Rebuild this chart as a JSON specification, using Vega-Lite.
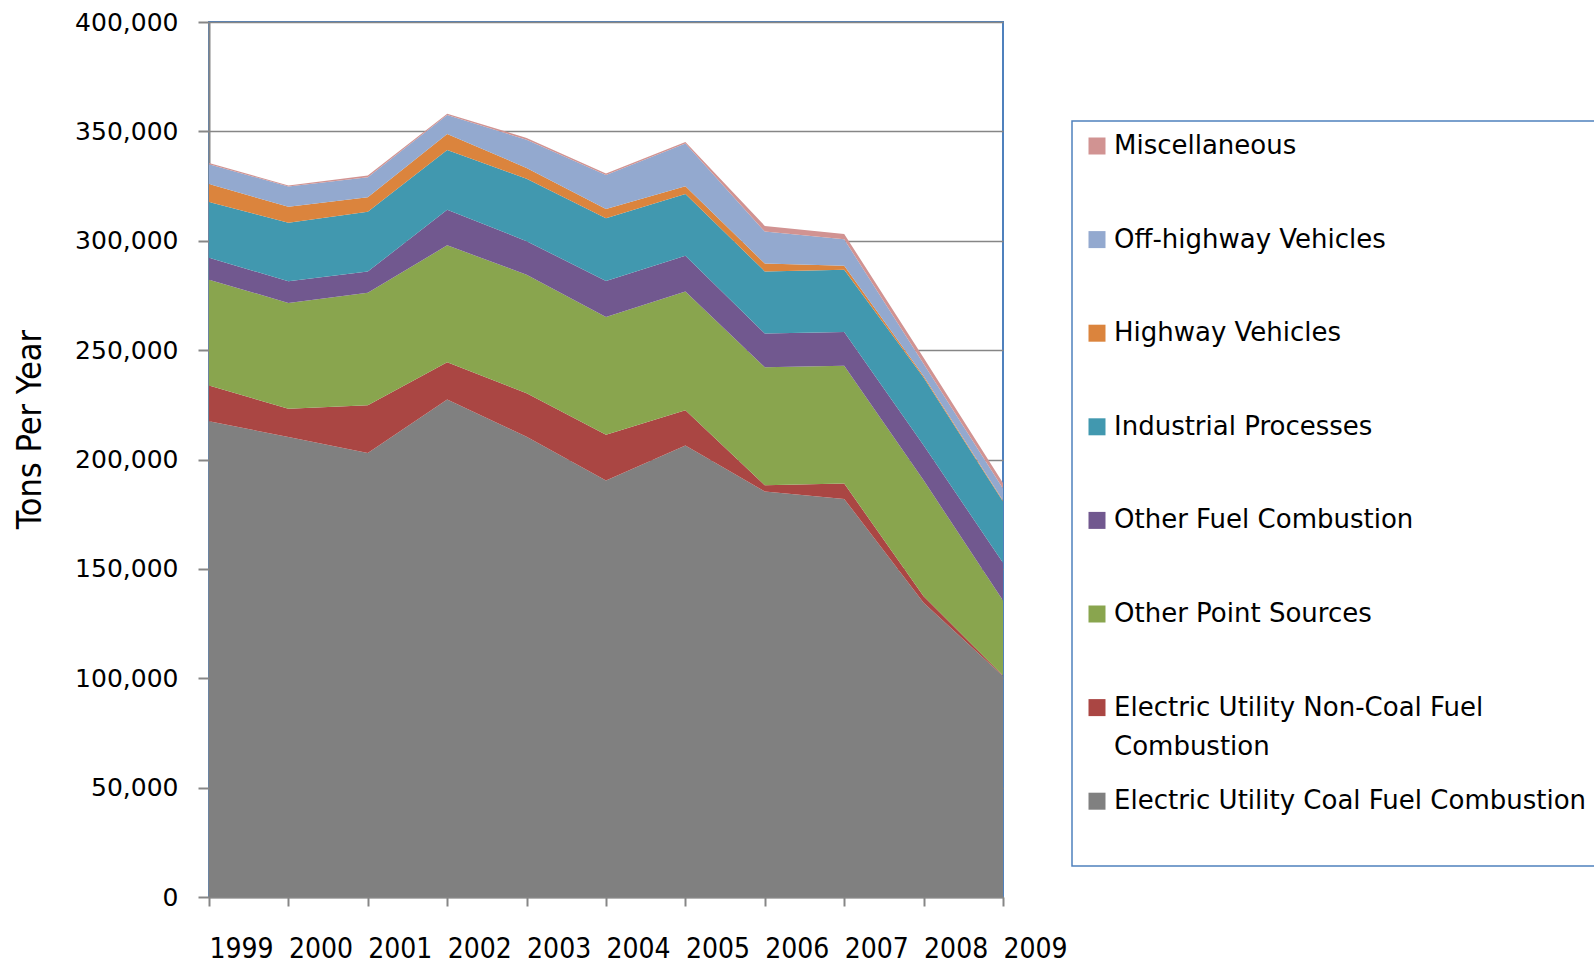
{
  "$schema": "https://vega.github.io/schema/vega-lite/v6.json",
  "autosize": {"type": "none"},
  "padding": {"left": 209, "top": 22, "right": 591, "bottom": 67},
  "width": 794,
  "height": 875,
  "background": "white",
  "data": {
    "values": [
      {"year": 1999, "source": "Electric Utility Coal Fuel Combustion", "tons": 217500},
      {"year": 1999, "source": "Electric Utility Non-Coal Fuel Combustion", "tons": 16300},
      {"year": 1999, "source": "Other Point Sources", "tons": 48400},
      {"year": 1999, "source": "Other Fuel Combustion", "tons": 10000},
      {"year": 1999, "source": "Industrial Processes", "tons": 25500},
      {"year": 1999, "source": "Highway Vehicles", "tons": 8300},
      {"year": 1999, "source": "Off-highway Vehicles", "tons": 9000},
      {"year": 1999, "source": "Miscellaneous", "tons": 500},
      {"year": 2000, "source": "Electric Utility Coal Fuel Combustion", "tons": 210300},
      {"year": 2000, "source": "Electric Utility Non-Coal Fuel Combustion", "tons": 12900},
      {"year": 2000, "source": "Other Point Sources", "tons": 48400},
      {"year": 2000, "source": "Other Fuel Combustion", "tons": 9900},
      {"year": 2000, "source": "Industrial Processes", "tons": 26700},
      {"year": 2000, "source": "Highway Vehicles", "tons": 7300},
      {"year": 2000, "source": "Off-highway Vehicles", "tons": 9300},
      {"year": 2000, "source": "Miscellaneous", "tons": 500},
      {"year": 2001, "source": "Electric Utility Coal Fuel Combustion", "tons": 203000},
      {"year": 2001, "source": "Electric Utility Non-Coal Fuel Combustion", "tons": 21800},
      {"year": 2001, "source": "Other Point Sources", "tons": 51400},
      {"year": 2001, "source": "Other Fuel Combustion", "tons": 9700},
      {"year": 2001, "source": "Industrial Processes", "tons": 27400},
      {"year": 2001, "source": "Highway Vehicles", "tons": 6600},
      {"year": 2001, "source": "Off-highway Vehicles", "tons": 9100},
      {"year": 2001, "source": "Miscellaneous", "tons": 800},
      {"year": 2002, "source": "Electric Utility Coal Fuel Combustion", "tons": 227400},
      {"year": 2002, "source": "Electric Utility Non-Coal Fuel Combustion", "tons": 17100},
      {"year": 2002, "source": "Other Point Sources", "tons": 53400},
      {"year": 2002, "source": "Other Fuel Combustion", "tons": 16300},
      {"year": 2002, "source": "Industrial Processes", "tons": 27300},
      {"year": 2002, "source": "Highway Vehicles", "tons": 7300},
      {"year": 2002, "source": "Off-highway Vehicles", "tons": 8700},
      {"year": 2002, "source": "Miscellaneous", "tons": 600},
      {"year": 2003, "source": "Electric Utility Coal Fuel Combustion", "tons": 210400},
      {"year": 2003, "source": "Electric Utility Non-Coal Fuel Combustion", "tons": 19900},
      {"year": 2003, "source": "Other Point Sources", "tons": 54200},
      {"year": 2003, "source": "Other Fuel Combustion", "tons": 15300},
      {"year": 2003, "source": "Industrial Processes", "tons": 28500},
      {"year": 2003, "source": "Highway Vehicles", "tons": 5000},
      {"year": 2003, "source": "Off-highway Vehicles", "tons": 12900},
      {"year": 2003, "source": "Miscellaneous", "tons": 800},
      {"year": 2004, "source": "Electric Utility Coal Fuel Combustion", "tons": 190400},
      {"year": 2004, "source": "Electric Utility Non-Coal Fuel Combustion", "tons": 20900},
      {"year": 2004, "source": "Other Point Sources", "tons": 53900},
      {"year": 2004, "source": "Other Fuel Combustion", "tons": 16400},
      {"year": 2004, "source": "Industrial Processes", "tons": 28700},
      {"year": 2004, "source": "Highway Vehicles", "tons": 4200},
      {"year": 2004, "source": "Off-highway Vehicles", "tons": 15600},
      {"year": 2004, "source": "Miscellaneous", "tons": 600},
      {"year": 2005, "source": "Electric Utility Coal Fuel Combustion", "tons": 206400},
      {"year": 2005, "source": "Electric Utility Non-Coal Fuel Combustion", "tons": 16100},
      {"year": 2005, "source": "Other Point Sources", "tons": 54300},
      {"year": 2005, "source": "Other Fuel Combustion", "tons": 16400},
      {"year": 2005, "source": "Industrial Processes", "tons": 28200},
      {"year": 2005, "source": "Highway Vehicles", "tons": 3500},
      {"year": 2005, "source": "Off-highway Vehicles", "tons": 19600},
      {"year": 2005, "source": "Miscellaneous", "tons": 700},
      {"year": 2006, "source": "Electric Utility Coal Fuel Combustion", "tons": 185400},
      {"year": 2006, "source": "Electric Utility Non-Coal Fuel Combustion", "tons": 2800},
      {"year": 2006, "source": "Other Point Sources", "tons": 54000},
      {"year": 2006, "source": "Other Fuel Combustion", "tons": 15400},
      {"year": 2006, "source": "Industrial Processes", "tons": 28400},
      {"year": 2006, "source": "Highway Vehicles", "tons": 3600},
      {"year": 2006, "source": "Off-highway Vehicles", "tons": 14600},
      {"year": 2006, "source": "Miscellaneous", "tons": 2600},
      {"year": 2007, "source": "Electric Utility Coal Fuel Combustion", "tons": 182000},
      {"year": 2007, "source": "Electric Utility Non-Coal Fuel Combustion", "tons": 7000},
      {"year": 2007, "source": "Other Point Sources", "tons": 53900},
      {"year": 2007, "source": "Other Fuel Combustion", "tons": 15400},
      {"year": 2007, "source": "Industrial Processes", "tons": 28500},
      {"year": 2007, "source": "Highway Vehicles", "tons": 1800},
      {"year": 2007, "source": "Off-highway Vehicles", "tons": 12100},
      {"year": 2007, "source": "Miscellaneous", "tons": 2400},
      {"year": 2008, "source": "Electric Utility Coal Fuel Combustion", "tons": 134500},
      {"year": 2008, "source": "Electric Utility Non-Coal Fuel Combustion", "tons": 3000},
      {"year": 2008, "source": "Other Point Sources", "tons": 53000},
      {"year": 2008, "source": "Other Fuel Combustion", "tons": 16000},
      {"year": 2008, "source": "Industrial Processes", "tons": 31000},
      {"year": 2008, "source": "Highway Vehicles", "tons": 700},
      {"year": 2008, "source": "Off-highway Vehicles", "tons": 5600},
      {"year": 2008, "source": "Miscellaneous", "tons": 2700},
      {"year": 2009, "source": "Electric Utility Coal Fuel Combustion", "tons": 101000},
      {"year": 2009, "source": "Electric Utility Non-Coal Fuel Combustion", "tons": 300},
      {"year": 2009, "source": "Other Point Sources", "tons": 34200},
      {"year": 2009, "source": "Other Fuel Combustion", "tons": 17300},
      {"year": 2009, "source": "Industrial Processes", "tons": 28000},
      {"year": 2009, "source": "Highway Vehicles", "tons": 500},
      {"year": 2009, "source": "Off-highway Vehicles", "tons": 5500},
      {"year": 2009, "source": "Miscellaneous", "tons": 2500}
    ]
  },
  "transform": [
    {"calculate": "indexof(['Electric Utility Coal Fuel Combustion','Electric Utility Non-Coal Fuel Combustion','Other Point Sources','Other Fuel Combustion','Industrial Processes','Highway Vehicles','Off-highway Vehicles','Miscellaneous'], datum.source)", "as": "stackRank"}
  ],
  "mark": {"type": "area", "opacity": 1, "strokeWidth": 0},
  "encoding": {
    "x": {
      "field": "year",
      "type": "quantitative",
      "scale": {"domain": [1999, 2009], "nice": false, "zero": false},
      "axis": {
        "title": null,
        "values": [1999, 2000, 2001, 2002, 2003, 2004, 2005, 2006, 2007, 2008, 2009],
        "format": "d",
        "grid": false,
        "domainColor": "#868686",
        "domainWidth": 2,
        "tickColor": "#868686",
        "tickWidth": 2,
        "tickSize": 9,
        "labelAlign": "left",
        "labelBaseline": "top",
        "labelPadding": 29,
        "labelFont": "DejaVu Sans Condensed, Liberation Sans Narrow, sans-serif",
        "labelFontSize": 28,
        "labelColor": "#000000",
        "labelOverlap": false,
        "labelFlush": false,
        "labelBound": false
      }
    },
    "y": {
      "field": "tons",
      "type": "quantitative",
      "stack": "zero",
      "scale": {"domain": [0, 400000], "nice": false},
      "axis": {
        "title": "Tons Per Year",
        "titleFont": "DejaVu Sans Condensed, Liberation Sans Narrow, sans-serif",
        "titleFontSize": 34,
        "titleFontWeight": "normal",
        "titleColor": "#000000",
        "titleAngle": 270,
        "titleBaseline": "middle",
        "titleAlign": "center",
        "titleX": -179,
        "titleY": 407,
        "values": [0, 50000, 100000, 150000, 200000, 250000, 300000, 350000, 400000],
        "format": ",.0f",
        "grid": true,
        "gridColor": "#868686",
        "gridWidth": 1.5,
        "domainColor": "#868686",
        "domainWidth": 2,
        "tickColor": "#868686",
        "tickWidth": 2,
        "tickSize": 11,
        "labelPadding": 20,
        "labelFont": "DejaVu Sans",
        "labelFontSize": 25,
        "labelColor": "#000000"
      }
    },
    "color": {
      "field": "source",
      "type": "nominal",
      "scale": {
        "domain": ["Miscellaneous", "Off-highway Vehicles", "Highway Vehicles", "Industrial Processes", "Other Fuel Combustion", "Other Point Sources", "Electric Utility Non-Coal Fuel Combustion", "Electric Utility Coal Fuel Combustion"],
        "range": ["#D19392", "#93A9CF", "#DB843D", "#4198AF", "#71588F", "#89A54E", "#AA4643", "#808080"]
      },
      "legend": {
        "title": null,
        "orient": "none",
        "legendX": 863,
        "legendY": 99,
        "padding": 12,
        "strokeColor": "#4F81BD",
        "fillColor": "#FFFFFF",
        "symbolType": "square",
        "symbolSize": 289,
        "symbolStrokeWidth": 0,
        "symbolOpacity": 1,
        "labelFont": "DejaVu Sans",
        "labelFontSize": 26,
        "labelColor": "#000000",
        "labelLimit": 800,
        "labelOffset": 4,
        "rowPadding": 28.6,
        "labelExpr": "datum.label == 'Electric Utility Non-Coal Fuel Combustion' ? ['Electric Utility Non-Coal Fuel', 'Combustion'] : [datum.label, '']",
        "encode": {
          "labels": {"update": {"lineHeight": {"value": 39}}}
        }
      }
    },
    "order": {"field": "stackRank", "type": "quantitative", "sort": "ascending"}
  },
  "config": {
    "view": {"stroke": "#4F81BD", "strokeWidth": 2},
    "legend": {"strokeWidth": 1.5}
  }
}
